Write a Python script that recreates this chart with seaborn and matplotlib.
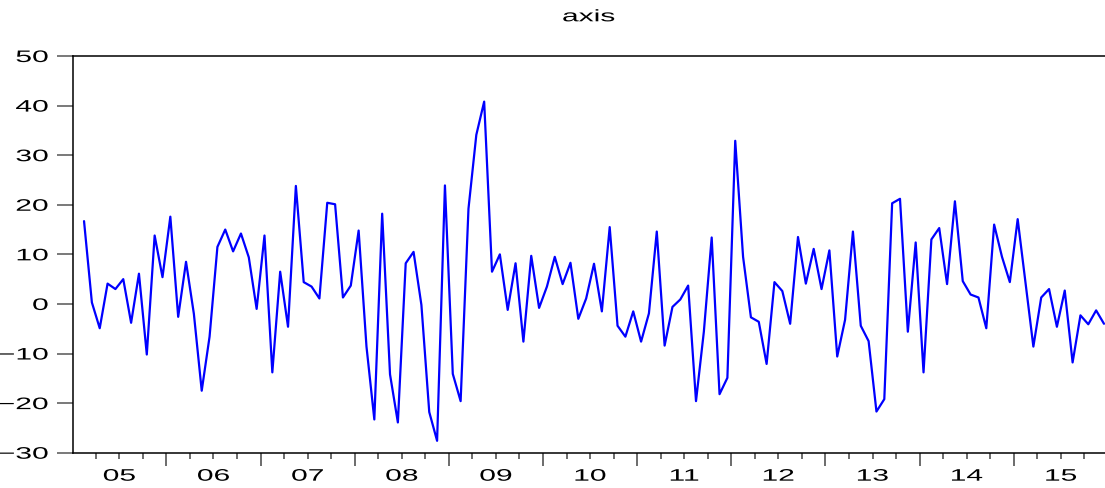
import numpy as np
import pandas as pd
import matplotlib
matplotlib.use("Agg")
import matplotlib.pyplot as plt
import seaborn as sns
from matplotlib.patheffects import AbstractPathEffect
from matplotlib.transforms import Affine2D
from matplotlib.ticker import FixedLocator, FixedFormatter, NullFormatter

# Monthly observations of the series
series_values = [
    16.7, 0.3, -4.9, 4.1, 3.0, 5.0, -3.8, 6.1, -10.2, 13.8,
    5.4, 17.6, -2.6, 8.5, -2.0, -17.5, -6.6, 11.5, 15.0, 10.6,
    14.2, 9.4, -1.0, 13.8, -13.8, 6.5, -4.6, 23.8, 4.4, 3.5,
    1.1, 20.4, 20.1, 1.3, 3.7, 14.8, -8.6, -23.3, 18.2, -14.2,
    -23.9, 8.2, 10.5, -0.2, -21.8, -27.6, 23.9, -14.1, -19.6, 19.2,
    34.1, 40.8, 6.5, 10.0, -1.2, 8.2, -7.6, 9.7, -0.8, 3.5,
    9.5, 4.0, 8.3, -3.0, 1.1, 8.1, -1.5, 15.5, -4.4, -6.6,
    -1.5, -7.6, -1.9, 14.6, -8.4, -0.6, 0.9, 3.7, -19.6, -5.6,
    13.4, -18.2, -14.9, 32.9, 9.5, -2.7, -3.6, -12.1, 4.4, 2.6,
    -4.0, 13.5, 4.1, 11.1, 3.0, 10.8, -10.6, -3.2, 14.6, -4.4,
    -7.5, -21.7, -19.2, 20.3, 21.2, -5.6, 12.4, -13.8, 13.0, 15.3,
    4.0, 20.7, 4.6, 1.9, 1.3, -4.9, 16.0, 9.5, 4.4, 17.1,
    4.3, -8.6, 1.3, 3.0, -4.6, 2.7, -11.8, -2.3, -4.1, -1.3,
    -4.0,
]
year_labels = ["05", "06", "07", "08", "09", "10", "11", "12", "13", "14", "15"]
y_ticks = [-30, -20, -10, 0, 10, 20, 30, 40, 50]
title_text = "axis"


class WideText(AbstractPathEffect):
    """Draw glyphs widened horizontally about an anchor (0 left, 0.5 centre, 1 right)."""

    def __init__(self, sx=1.8, anchor=0.5):
        super().__init__()
        self.sx = sx
        self.anchor = anchor

    def draw_path(self, renderer, gc, tpath, affine, rgbFace=None):
        ext = tpath.get_extents()
        cx = ext.x0 + self.anchor * ext.width
        widen = Affine2D().translate(-cx, 0).scale(self.sx, 1).translate(cx, 0)
        renderer.draw_path(gc, tpath, widen + affine, rgbFace)


sns.set_style("ticks")
plt.rcParams["font.family"] = ["Liberation Sans", "DejaVu Sans"]

W, H = 1105, 488
fig = plt.figure(figsize=(W / 100, H / 100), dpi=100)
ax_left, ax_right, ax_top, ax_bottom = 72.5, 1105.0, 56.0, 452.7
ax = fig.add_axes([ax_left / W, 1 - ax_bottom / H,
                   (ax_right - ax_left) / W, (ax_bottom - ax_top) / H])

df = pd.DataFrame({"obs": np.arange(len(series_values)), "value": series_values})
sns.lineplot(data=df, x="obs", y="value", ax=ax, color="#0000ff", linewidth=1.6)

ax.set_xlim(-1.47, 130.13)
ax.set_ylim(-30, 50)
ax.set_xlabel("")
ax.set_ylabel("")

# y axis
ax.set_yticks(y_ticks)
ax.tick_params(axis="y", which="major", direction="out", length=11.5, width=1.1,
               color="#555555", labelsize=12, pad=6, labelcolor="black")

# x axis: long ticks at year boundaries, short ticks at quarters, labels mid-year
year_edges = [-1.5 + 12 * k for k in range(12)]
quarter_pos = [-1.5 + 3 * k for k in range(44) if k % 4 != 0]
quarter_lab = [year_labels[k // 4] if k % 4 == 2 else "" for k in range(44) if k % 4 != 0]
ax.xaxis.set_major_locator(FixedLocator(year_edges))
ax.xaxis.set_major_formatter(NullFormatter())
ax.xaxis.set_minor_locator(FixedLocator(quarter_pos))
ax.xaxis.set_minor_formatter(FixedFormatter(quarter_lab))
ax.tick_params(axis="x", which="major", direction="out", length=9, width=1.1,
               color="#444444")
ax.tick_params(axis="x", which="minor", direction="out", length=4.5, width=1.1,
               color="#444444", labelsize=12, pad=7, labelcolor="black")

for sp in ("left", "bottom", "top"):
    ax.spines[sp].set_color("black")
    ax.spines[sp].set_linewidth(1.1)
ax.spines["right"].set_visible(False)

for t in ax.yaxis.get_major_ticks():
    t.label1.set_path_effects([WideText(1.8, 1.0)])
for t in ax.xaxis.get_minor_ticks():
    t.label1.set_path_effects([WideText(1.8, 0.5)])

ax.set_title(title_text, fontsize=12, pad=25, color="black",
             path_effects=[WideText(1.8, 0.5)])

fig.savefig("out.png", dpi=100)
